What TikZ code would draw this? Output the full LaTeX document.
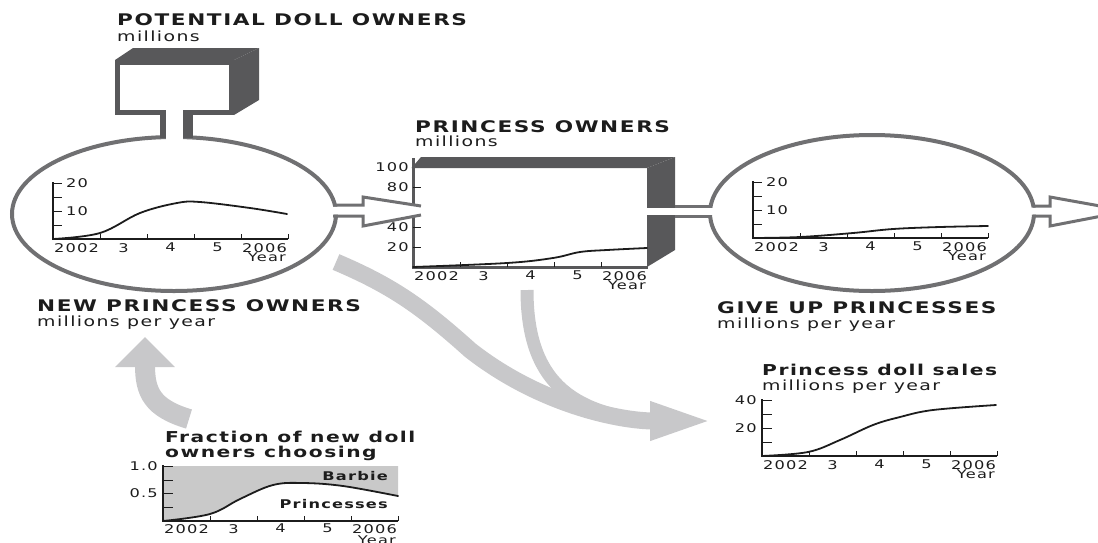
\documentclass[tikz,border=0pt]{standalone}
\usepackage{fontspec}
\usetikzlibrary{arrows.meta,positioning,shapes.geometric}
\newfontfamily\dollfont[FakeStretch=1.35,LetterSpace=10]{DejaVu Sans}
\definecolor{stockgray}{HTML}{58585A}
\definecolor{ringgray}{HTML}{707072}
\definecolor{flowgray}{HTML}{C8C8CA}
\definecolor{barbiegray}{HTML}{C9C9C9}
\definecolor{ink}{HTML}{1C1C1C}
\tikzset{
  headlabel/.style={anchor=base west,inner sep=0pt,text=ink,font=\dollfont\fontsize{16}{18}\selectfont\bfseries},
  unitlabel/.style={anchor=base west,inner sep=0pt,text=ink,font=\dollfont\fontsize{14}{16}\selectfont},
  charttitle/.style={anchor=base west,inner sep=0pt,text=ink,font=\dollfont\fontsize{15}{17}\selectfont\bfseries},
  ticklabel/.style={inner sep=0pt,text=ink,font=\dollfont\fontsize{12}{14}\selectfont},
  axisline/.style={line width=1.6pt,ink},
  tickline/.style={line width=1pt,ink},
  curveline/.style={line width=1.8pt,ink,line cap=round},
  ringline/.style={draw=ringgray,line width=4pt,ellipse,inner sep=0pt},
  pipeline/.style={line width=3pt,ringgray},
  stockedge/.style={line width=3pt,stockgray},
  flowband/.style={flowgray,line width=17pt}
}
\begin{document}
\begin{tikzpicture}[x=1pt,y=-1pt]
  \useasboundingbox (0,0) rectangle (1098,542);
  \clip (0,0) rectangle (1098,542);

  % light gray information links
  \coordinate (fracout) at (189,419);
  \coordinate (newin) at (145,337);
  \coordinate (ringout) at (336,262);
  \coordinate (stockout) at (527,290);
  \coordinate (bandmeet) at (652,421);
  \coordinate (salesin) at (715,421);
  \draw[flowband,line width=13pt] (stockout) .. controls (527,380) and (570,413) .. (bandmeet);
  \draw[flowband,-{Triangle[length=65pt,width=34pt]}] (ringout) .. controls (390,285) and (420,305) .. (470,350) .. controls (540,405) and (620,421) .. (salesin);
  \draw[flowband,line width=20pt,-{Triangle[length=30pt,width=58pt]}] (fracout) .. controls (152,408) and (145,392) .. (newin);

  % potential doll owners stock
  \fill[stockgray] (115,60) -- (133,48) -- (259,48) -- (234,60) -- cycle;
  \fill[stockgray] (234,60) -- (259,48) -- (259,100) -- (234,115) -- cycle;
  \draw[stockgray,line width=5pt] (117.5,62.5) rectangle (231.5,112.5);

  % new princess owners ring
  \node[ringline,minimum width=324pt,minimum height=154pt] (newring) at (174,214) {};
  \fill[white] (166,106) rectangle (183,146);
  \draw[stockgray,line width=6pt] (163,110) -- (163,138);
  \draw[stockgray,line width=10pt] (188,110) -- (188,138);

  % princess owners stock
  \fill[stockgray] (411.5,168) -- (421,157) -- (675,157) -- (647,168) -- cycle;
  \fill[stockgray] (647,168) -- (675,157) -- (675,250) -- (647,267) -- cycle;
  \draw[stockedge] (413,158) -- (413,267) -- (648,267);

  % give up princesses ring
  \node[ringline,minimum width=324pt,minimum height=156pt] (giveupring) at (872,213) {};

  % pipes between stocks and rings
  \fill[white] (328,206.5) -- (363,206.5) -- (363,197) -- (421,206) -- (421,215) -- (363,226) -- (363,214.5) -- (328,214.5) -- cycle;
  \draw[pipeline] (333,205) -- (363,205) -- (363,197) -- (421,206);
  \draw[pipeline] (333,216) -- (363,216) -- (363,226) -- (421,215);
  \fill[white] (645,207.5) rectangle (716,214.5);
  \draw[pipeline] (675,206) -- (711,206);
  \draw[pipeline] (675,216) -- (711,216);
  \fill[white] (1028,207.5) -- (1050,207.5) -- (1050,197) -- (1128,211) -- (1050,226) -- (1050,214.5) -- (1028,214.5) -- cycle;
  \draw[pipeline] (1033,206) -- (1050,206) -- (1050,197) -- (1128,211);
  \draw[pipeline] (1033,216) -- (1050,216) -- (1050,226) -- (1128,211);

  % chart in new princess owners ring
  \begin{scope}[shift={(53,239)},yscale=-1]
    \draw[curveline] plot[smooth,tension=0.6] coordinates {(0,0) (47,6) (87,26) (124,36) (147,37) (197,31) (234,25)};
    \draw[axisline] (0,57) -- (0,0) -- (235,0);
    \foreach \v in {14,28,42,56} \draw[tickline] (0,\v) -- (9,\v);
    \foreach \x in {47,94,141,188,235} \draw[tickline] (\x,0) -- (\x,5);
    \node[ticklabel,anchor=west] (newtickb) at (13,56) {20};
    \node[ticklabel,anchor=west] (newticka) at (13,28) {10};
    \foreach \yr [count=\i] in {2002,3,4,5,2006}
      \node[ticklabel,anchor=north] (newyr\i) at ({47*\i-23.5},-4) {\yr};
    \node[ticklabel,anchor=north east] (newyear) at (233,-14) {Year};
  \end{scope}

  % chart in princess owners stock
  \begin{scope}[shift={(413,267)},yscale=-1]
    \draw[curveline] plot[smooth,tension=0.6] coordinates {(0,0) (94,4) (140,9) (167,15) (194,17) (234,19)};
    \foreach \v in {20,40,80} \draw[tickline] (0,\v) -- (8,\v);
    \foreach \x in {47,94,141,188} \draw[tickline] (\x,0) -- (\x,5);
    \foreach \v in {100,80,40,20}
      \node[ticklabel,anchor=east] (owntick\v) at (-4,\v) {\v};
    \foreach \yr [count=\i] in {2002,3,4,5,2006}
      \node[ticklabel,anchor=north] (ownyr\i) at ({47*\i-23.5},-4) {\yr};
    \node[ticklabel,anchor=north east] (ownyear) at (233,-14) {Year};
  \end{scope}

  % chart in give up princesses ring
  \begin{scope}[shift={(753,238)},yscale=-1]
    \draw[curveline] plot[smooth,tension=0.6] coordinates {(0,0) (47,1) (100,5) (140,9) (187,11) (235,12)};
    \draw[axisline] (0,57) -- (0,0) -- (235,0);
    \foreach \v in {14,28,42,56} \draw[tickline] (0,\v) -- (9,\v);
    \foreach \x in {47,94,141,188,235} \draw[tickline] (\x,0) -- (\x,5);
    \node[ticklabel,anchor=west] (givetickb) at (13,56) {20};
    \node[ticklabel,anchor=west] (giveticka) at (13,28) {10};
    \foreach \yr [count=\i] in {2002,3,4,5,2006}
      \node[ticklabel,anchor=north] (giveyr\i) at ({47*\i-23.5},-4) {\yr};
    \node[ticklabel,anchor=north east] (giveyear) at (233,-14) {Year};
  \end{scope}

  % princess doll sales chart
  \begin{scope}[shift={(762,456)},yscale=-1]
    \draw[curveline] plot[smooth,tension=0.6] coordinates {(0,0) (46,4) (78,16) (111,31) (138,39) (171,46) (234,51)};
    \draw[axisline] (0,57) -- (0,0) -- (235,0);
    \foreach \v in {14,28,42,56} \draw[tickline] (0,\v) -- (10,\v);
    \foreach \x in {47,94,141,188,235} \draw[tickline] (\x,0) -- (\x,5);
    \node[ticklabel,anchor=east] (salestickb) at (-5,56) {40};
    \node[ticklabel,anchor=east] (salesticka) at (-5,28) {20};
    \foreach \yr [count=\i] in {2002,3,4,5,2006}
      \node[ticklabel,anchor=north] (salesyr\i) at ({47*\i-23.5},-4) {\yr};
    \node[ticklabel,anchor=north east] (salesyear) at (233,-14) {Year};
  \end{scope}

  % fraction choosing chart
  \begin{scope}[shift={(163,521)},yscale=-1]
    \fill[barbiegray] (0,55) -- plot[smooth,tension=0.6] coordinates {(0,0) (47,7) (77,22) (110,36) (140,38) (180,35) (235,25)} -- (235,55) -- cycle;
    \draw[curveline] plot[smooth,tension=0.6] coordinates {(0,0) (47,7) (77,22) (110,36) (140,38) (180,35) (235,25)};
    \draw[axisline] (0,56) -- (0,0) -- (235,0);
    \foreach \v in {14,27.5,41,55} \draw[tickline] (0,\v) -- (10,\v);
    \foreach \x in {47,94,141,188,235} \draw[tickline] (\x,0) -- (\x,5);
    \node[ticklabel,anchor=east] (fractickb) at (-5,55) {1.0};
    \node[ticklabel,anchor=east] (fracticka) at (-5,27.5) {0.5};
    \node[ticklabel,anchor=east,font=\dollfont\fontsize{12}{14}\selectfont\bfseries] (barbie) at (225,45) {Barbie};
    \node[ticklabel,anchor=east,font=\dollfont\fontsize{12}{14}\selectfont\bfseries] (princesses) at (225,17) {Princesses};
    \foreach \yr [count=\i] in {2002,3,4,5,2006}
      \node[ticklabel,anchor=north] (fracyr\i) at ({47*\i-23.5},-3) {\yr};
    \node[ticklabel,anchor=north east] (fracyear) at (233,-14.5) {Year};
  \end{scope}

  % labels
  \node[headlabel] (potlabel) at (117,25) {POTENTIAL DOLL OWNERS};
  \node[unitlabel] (potunit) at (117,41) {millions};
  \node[headlabel] (ownlabel) at (415,132) {PRINCESS OWNERS};
  \node[unitlabel] (ownunit) at (415,146) {millions};
  \node[headlabel] (newlabel) at (37,311) {NEW PRINCESS OWNERS};
  \node[unitlabel] (newunit) at (37,326) {millions per year};
  \node[headlabel] (givelabel) at (717,313) {GIVE UP PRINCESSES};
  \node[unitlabel] (giveunit) at (717,328) {millions per year};
  \node[charttitle] (salestitle) at (762,375) {Princess doll sales};
  \node[unitlabel] (salesunit) at (762,390) {millions per year};
  \node[charttitle] (fractitle) at (165,442) {Fraction of new doll};
  \node[charttitle,anchor=base west] (fracsub) at ([yshift=-15pt]fractitle.base west) {owners choosing};
\end{tikzpicture}
\end{document}
